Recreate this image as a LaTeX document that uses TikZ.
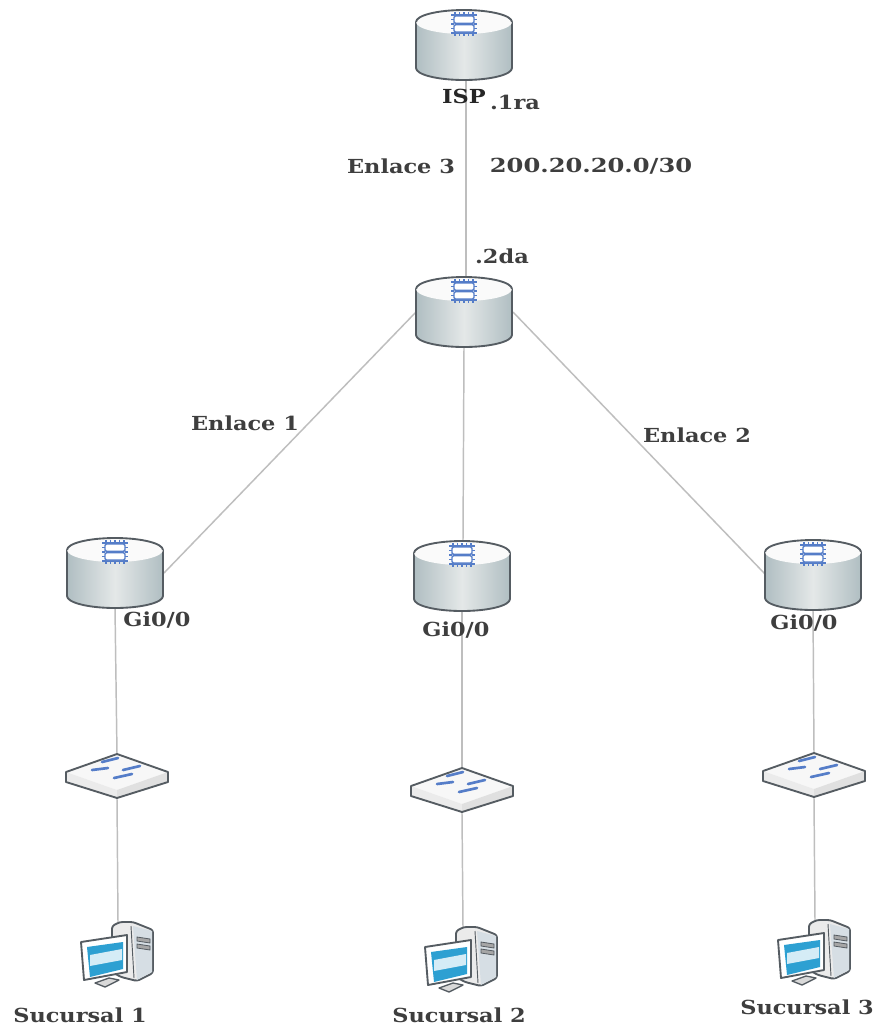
\documentclass[tikz,border=0pt]{standalone}
\usepackage{fontspec}
\setmainfont{DejaVu Serif}[FakeStretch=1.16]
\newfontfamily\netfont{DejaVu Serif}[FakeStretch=1.25]
\definecolor{lnk}{RGB}{190,190,190}
\definecolor{edge}{RGB}{85,92,98}
\definecolor{chipblue}{RGB}{85,125,200}
\definecolor{sideA}{RGB}{176,190,194}
\definecolor{sideB}{RGB}{228,232,232}
\definecolor{txt}{RGB}{62,62,62}
\definecolor{screen}{RGB}{45,160,210}
\definecolor{towerface}{RGB}{214,222,228}
\tikzset{
  x=0.75pt,y=-0.75pt,
  lnkline/.style={draw=lnk,line width=1.1pt},
  lbl/.style={font=\fontsize{14.5}{16}\selectfont\bfseries,text=txt,inner sep=0pt,anchor=center},
  outlinee/.style={draw=edge,line width=1.4pt,line join=round},
  router/.pic={
    % body: centre x=0, top y=0, total height 70
    \fill[left color=sideA,right color=sideA,middle color=sideB]
      (-48,12) -- (-48,58) arc[x radius=48,y radius=12,start angle=180,end angle=0] -- (48,12) -- cycle;
    \draw[outlinee] (-48,12) -- (-48,58) arc[x radius=48,y radius=12,start angle=180,end angle=0] -- (48,12);
    \fill[white!98!black] (0,12) ellipse[x radius=48,y radius=12];
    \draw[outlinee] (-48,12) arc[x radius=48,y radius=12,start angle=180,end angle=360];
    \foreach \i in {-9,-4.5,0,4.5,9}{
      \draw[chipblue,line width=0.9pt] (\i,2) -- (\i,26);
    }
    \foreach \i in {5,9.5,14,18.5,23}{
      \draw[chipblue,line width=0.9pt] (-13,\i) -- (13,\i);
    }
    \fill[white] (-10,6) rectangle (10,22);
    \draw[chipblue,line width=1.1pt,fill=white,rounded corners=1pt] (-10,6) rectangle (10,13.3) (-10,14.7) rectangle (10,22);
  },
  switchbox/.pic={
    % centre x=0, top y=0, left/right corners at y=18, front bottom at y=44
    \fill[white!97!black] (-51,18) -- (0,0) -- (51,18) -- (0,36) -- cycle;
    \fill[white!92!black] (-51,18) -- (0,36) -- (0,44) -- (-51,28) -- cycle;
    \fill[white!88!black] (51,18) -- (0,36) -- (0,44) -- (51,28) -- cycle;
    \draw[outlinee] (-51,18) -- (0,0) -- (51,18) -- (51,28) -- (0,44) -- (-51,28) -- cycle;
    \draw[chipblue,line width=2pt,line cap=round]
      (-15,8) -- (1,4)
      (-25,16) -- (-9,14)
      (6,16) -- (23,12)
      (-3,24) -- (15,20);
  },
  pcset/.pic={
    % origin at top-left of bounding box (width 73, height 65)
    \draw[outlinee,fill=white!92!black,rounded corners=2pt] (31,4) -- (39,0) -- (52,0) -- (72,8) -- (72,51) -- (56,59) -- (40,55) -- (31,50) -- cycle;
    \fill[towerface] (52,4) -- (71,9) -- (71,50) -- (56,58) -- cycle;
    \draw[edge,line width=.7pt] (50,4) -- (53,56);
    \draw[edge,fill=white!65!black,line width=.6pt] (56,15) -- (69,17) -- (69,21) -- (56,19) -- cycle (56,22) -- (69,24) -- (69,28) -- (56,26) -- cycle;
    \draw[outlinee,fill=white!85!black,line width=1pt] (14,61) -- (28,56) -- (38,58) -- (24,65) -- cycle;
    \draw[outlinee,fill=white] (0,20) -- (46,13) -- (46,50) -- (3,58) -- cycle;
    \fill[screen] (6,25) -- (42,20) -- (42,47) -- (9,55) -- cycle;
    \fill[white!80!screen] (9,33) -- (41,27) -- (41,38) -- (9,44) -- cycle;
  }
}
\begin{document}
\begin{tikzpicture}
\useasboundingbox (0,0) rectangle (876,1026);
\fill[white] (0,0) rectangle (876,1026);
% anchors for connectors
\coordinate (isp) at (464,10);
\coordinate (core) at (464,277);
\coordinate (r1) at (115,538);
\coordinate (r2) at (462,541);
\coordinate (r3) at (813,540);
\coordinate (s1) at (117,754);
\coordinate (s2) at (462,768);
\coordinate (s3) at (814,753);
\coordinate (p1) at (81,922);
\coordinate (p2) at (425,927);
\coordinate (p3) at (778,920);
\coordinate (ispB) at (466,79);
\coordinate (coreT) at (466,277);
\coordinate (coreL) at (416,312);
\coordinate (coreR) at (513,312);
\coordinate (coreB) at (464,347);
\coordinate (r1T) at (164,573);
\coordinate (r1B) at (115,608);
\coordinate (r2T) at (463,541);
\coordinate (r2B) at (462,611);
\coordinate (r3T) at (765,574);
\coordinate (r3B) at (813,610);
\coordinate (s1T) at (117,754);
\coordinate (s1B) at (117,798);
\coordinate (s2T) at (462,768);
\coordinate (s2B) at (462,813);
\coordinate (s3T) at (814,753);
\coordinate (s3B) at (814,798);
\coordinate (p1T) at (118,922);
\coordinate (p2T) at (463,927);
\coordinate (p3T) at (815,920);
% connectors
\draw[lnkline] (ispB) -- (coreT);
\draw[lnkline] (coreL) -- (r1T);
\draw[lnkline] (coreB) -- (r2T);
\draw[lnkline] (coreR) -- (r3T);
\draw[lnkline] (r1B) -- (s1T);
\draw[lnkline] (r2B) -- (s2T);
\draw[lnkline] (r3B) -- (s3T);
\draw[lnkline] (s1B) -- (p1T);
\draw[lnkline] (s2B) -- (p2T);
\draw[lnkline] (s3B) -- (p3T);
% devices
\pic at (isp) {router};
\pic at (core) {router};
\pic at (r1) {router};
\pic at (r2) {router};
\pic at (r3) {router};
\pic at (s1) {switchbox};
\pic at (s2) {switchbox};
\pic at (s3) {switchbox};
\pic at (p1) {pcset};
\pic at (p2) {pcset};
\pic at (p3) {pcset};
% labels
\node[lbl,text=black!85] (tIsp) at (464,96) {ISP};
\node[lbl] (t1ra) at (515,102) {.1ra};
\node[lbl] (tE3) at (401,166) {Enlace 3};
\node[lbl] (tNet) at (591,166) {\netfont\bfseries 200.20.20.0/30};
\node[lbl] (t2da) at (502,256) {.2da};
\node[lbl] (tE1) at (245,423) {Enlace 1};
\node[lbl] (tE2) at (697,435) {Enlace 2};
\node[lbl] (tG1) at (157,620) {Gi0/0};
\node[lbl] (tG2) at (456,630) {Gi0/0};
\node[lbl] (tG3) at (804,623) {Gi0/0};
\node[lbl] (tS1) at (80,1015) {Sucursal 1};
\node[lbl] (tS2) at (459,1015) {Sucursal 2};
\node[lbl] (tS3) at (807,1007) {Sucursal 3};
\end{tikzpicture}
\end{document}
